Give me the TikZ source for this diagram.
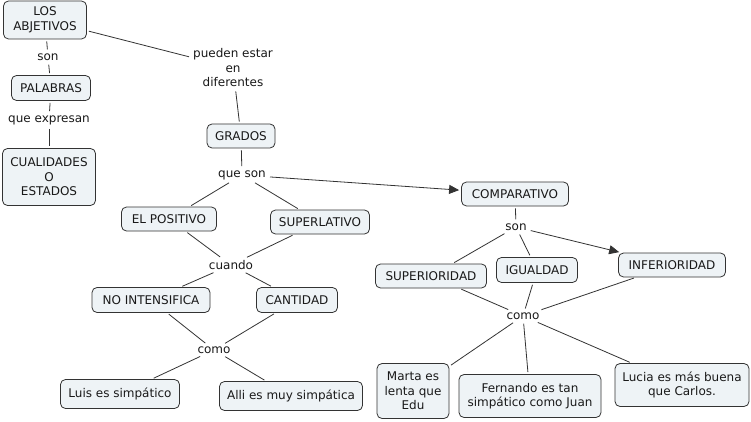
\documentclass[tikz,border=0pt]{standalone}
\usepackage{fontspec}
\setmainfont{DejaVu Sans}
\usetikzlibrary{arrows.meta}
\definecolor{boxfill}{HTML}{EEF3F6}
\definecolor{boxline}{HTML}{333333}
\begin{document}
\begin{tikzpicture}[x=1pt,y=-1pt,
  every node/.style={font=\fontsize{12}{14.5}\selectfont, text=black!90},
  cbox/.style={draw=boxline, fill=boxfill, rounded corners=5pt, line width=0.8pt, align=center, inner sep=1pt},
  lab/.style={align=center, inner sep=2pt},
  ln/.style={draw=boxline, line width=0.8pt, shorten >=2pt, shorten <=2pt},
  arr/.style={ln, -{Triangle[length=10pt,width=9pt]}}]
\fill[white] (0,0) rectangle (751,422);
\useasboundingbox (0,0) rectangle (751,422);
% concepts
\node[cbox, minimum width=83pt, minimum height=38pt] (abj) at (45,20) {LOS\\ABJETIVOS};
\node[cbox, minimum width=79pt, minimum height=25pt] (pal) at (51,88) {PALABRAS};
\node[cbox, minimum width=93pt, minimum height=57pt] (cual) at (49,177) {CUALIDADES\\O\\ESTADOS};
\node[cbox, minimum width=68pt, minimum height=24pt] (grad) at (241,136) {GRADOS};
\node[cbox, minimum width=107pt, minimum height=24pt] (comp) at (515,194) {COMPARATIVO};
\node[cbox, minimum width=111pt, minimum height=24pt] (sup) at (431,276) {SUPERIORIDAD};
\node[cbox, minimum width=81pt, minimum height=25pt] (igu) at (537,270) {IGUALDAD};
\node[cbox, minimum width=107pt, minimum height=24pt] (inf) at (672,265) {INFERIORIDAD};
\node[cbox, minimum width=72pt, minimum height=55pt] (marta) at (413,391) {Marta es\\lenta que\\Edu};
\node[cbox, minimum width=142pt, minimum height=43pt] (fern) at (530,396) {Fernando es tan\\simpático como Juan};
\node[cbox, minimum width=134pt, minimum height=43pt] (lucia) at (682,385) {Lucia es más buena\\que Carlos.};
\node[cbox, minimum width=95pt, minimum height=24pt] (pos) at (169,219) {EL POSITIVO};
\node[cbox, minimum width=99pt, minimum height=24pt] (supl) at (320,222) {SUPERLATIVO};
\node[cbox, minimum width=118pt, minimum height=25pt] (noint) at (151,300) {NO INTENSIFICA};
\node[cbox, minimum width=81pt, minimum height=25pt] (cant) at (297,300) {CANTIDAD};
\node[cbox, minimum width=119pt, minimum height=29pt] (luis) at (120,394) {Luis es simpático};
\node[cbox, minimum width=143pt, minimum height=29pt] (alli) at (291,396) {Alli es muy simpática};
% linking phrases
\node[lab] (son1) at (48,57) {son};
\node[lab] (qexp) at (49,120) {que expresan};
\node[lab] (pued) at (233,68) {pueden estar\\en\\diferentes};
\node[lab] (qson) at (242,175) {que son};
\node[lab] (son2) at (516,227) {son};
\node[lab] (como2) at (523,316) {como};
\node[lab] (cuando) at (231,265) {cuando};
\node[lab] (como1) at (214,350) {como};
% connectors
\draw[ln] (abj) -- (son1);
\draw[ln] (son1) -- (pal);
\draw[ln] (pal) -- (qexp);
\draw[ln] (qexp) -- (cual);
\draw[ln] (abj) -- (pued);
\draw[ln] (pued) -- (grad);
\draw[ln] (grad) -- (qson);
\draw[ln] (qson) -- (pos);
\draw[ln] (qson) -- (supl);
\draw[arr] (qson) -- (comp);
\draw[ln] (pos) -- (cuando);
\draw[ln] (supl) -- (cuando);
\draw[ln] (cuando) -- (noint);
\draw[ln] (cuando) -- (cant);
\draw[ln] (noint) -- (como1);
\draw[ln] (cant) -- (como1);
\draw[ln] (como1) -- (luis);
\draw[ln] (como1) -- (alli);
\draw[ln] (comp) -- (son2);
\draw[ln] (son2) -- (sup);
\draw[ln] (son2) -- (igu);
\draw[arr] (son2) -- (inf);
\draw[ln] (sup) -- (como2);
\draw[ln] (igu) -- (como2);
\draw[ln] (inf) -- (como2);
\draw[ln] (como2) -- (marta);
\draw[ln] (como2) -- (fern);
\draw[ln] (como2) -- (lucia);
\end{tikzpicture}
\end{document}
